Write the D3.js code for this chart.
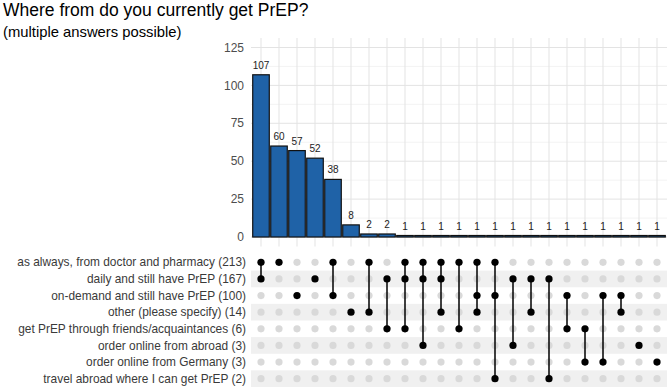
<!DOCTYPE html>
<html>
<head>
<meta charset="utf-8">
<script src="https://cdn.jsdelivr.net/npm/d3@7"></script>
<style>
  body { margin: 0; background: #fff; }
  svg { font-family: "Liberation Sans", Arial, sans-serif; }
</style>
</head>
<body>
<svg id="chart" width="669" height="388"></svg>
<script>
/** Set names (rows of the matrix), top to bottom */
var setNames = [
  "as always, from doctor and pharmacy",
  "daily and still have PrEP",
  "on-demand and still have PrEP",
  "other (please specify)",
  "get PrEP through friends/acquaintances",
  "order online from abroad",
  "order online from Germany",
  "travel abroad where I can get PrEP"
];
var setSizes = [213, 167, 100, 14, 6, 3, 3, 2];

/** Intersection sizes, one per column */
var counts = [107, 60, 57, 52, 38, 8, 2, 2, 1, 1, 1, 1, 1, 1, 1, 1, 1, 1, 1, 1, 1, 1, 1];

/** Which sets (row index) take part in each column */
var members = [
  [0, 1], [0], [2], [1], [0, 2], [3], [0, 3], [1, 4],
  [0, 1, 4], [0, 1, 5], [0, 1, 3], [0, 4], [0, 2, 3], [0, 2, 7],
  [1, 5], [1, 3], [1, 7], [2, 4], [4, 6], [2, 6], [2, 3], [5], [6]
];

var yTicks = [0, 25, 50, 75, 100, 125];
var yMinor = [12.5, 37.5, 62.5, 87.5, 112.5];

var svg = d3.select("#chart");

// title
svg.append("text").attr("x", 3).attr("y", 16)
  .style("font-size", "17.5px").style("fill", "#000")
  .text("Where from do you currently get PrEP?");
svg.append("text").attr("x", 3).attr("y", 37)
  .style("font-size", "14.8px").style("fill", "#000")
  .text("(multiple answers possible)");

// scales
var x = d3.scaleBand()
  .domain(d3.range(counts.length))
  .range([252, 666])
  .paddingInner(0.08)
  .paddingOuter(0.04);

var y = d3.scaleLinear()
  .domain([-6.25, 131.25])
  .range([246.5, 38]);

var row = d3.scaleBand()
  .domain(d3.range(setNames.length))
  .range([254, 387]);

var panelLeft = 251, panelRight = 667;

// ---- bar panel grid ----
var grid = svg.append("g");
grid.selectAll("line.minor").data(yMinor).enter().append("line")
  .attr("x1", panelLeft).attr("x2", panelRight)
  .attr("y1", function(d){ return y(d); }).attr("y2", function(d){ return y(d); })
  .attr("stroke", "#ebebeb").attr("stroke-width", 0.6);
grid.selectAll("line.major").data(yTicks).enter().append("line")
  .attr("x1", panelLeft).attr("x2", panelRight)
  .attr("y1", function(d){ return y(d); }).attr("y2", function(d){ return y(d); })
  .attr("stroke", "#e3e3e3").attr("stroke-width", 1);
grid.selectAll("line.vert").data(d3.range(counts.length)).enter().append("line")
  .attr("x1", function(d){ return x(d) + x.bandwidth() / 2; })
  .attr("x2", function(d){ return x(d) + x.bandwidth() / 2; })
  .attr("y1", y.range()[1]).attr("y2", y.range()[0])
  .attr("stroke", "#e3e3e3").attr("stroke-width", 1);

// y axis labels
svg.selectAll("text.ytick").data(yTicks).enter().append("text")
  .attr("x", 244).attr("y", function(d){ return y(d); })
  .attr("dy", "0.35em").attr("text-anchor", "end")
  .style("font-size", "12px").style("fill", "#4d4d4d")
  .text(function(d){ return d; });

// bars
svg.selectAll("rect.bar").data(counts).enter().append("rect")
  .attr("x", function(d, i){ return x(i); })
  .attr("width", x.bandwidth())
  .attr("y", function(d){ return y(d); })
  .attr("height", function(d){ return y(0) - y(d); })
  .attr("fill", "#1f62a7")
  .attr("stroke", "#111").attr("stroke-width", 1.2);

// bar labels
svg.selectAll("text.count").data(counts).enter().append("text")
  .attr("x", function(d, i){ return x(i) + x.bandwidth() / 2; })
  .attr("y", function(d){ return y(d) - 6; })
  .attr("text-anchor", "middle")
  .style("font-size", "10px").style("fill", "#222")
  .text(function(d){ return d; });

// ---- matrix ----
// stripes on every second row
svg.selectAll("rect.stripe").data(d3.range(setNames.length).filter(function(i){ return i % 2 == 1; }))
  .enter().append("rect")
  .attr("x", panelLeft).attr("width", panelRight - panelLeft)
  .attr("y", function(d){ return row(d); })
  .attr("height", row.bandwidth())
  .attr("fill", "#f0f0f0");

// row labels
svg.selectAll("text.setlabel").data(setNames).enter().append("text")
  .attr("x", 246)
  .attr("y", function(d, i){ return row(i) + row.bandwidth() / 2; })
  .attr("dy", "0.35em").attr("text-anchor", "end")
  .style("font-size", "11.9px").style("fill", "#3a3a3a")
  .text(function(d, i){ return d + " (" + setSizes[i] + ")"; });

var cols = svg.selectAll("g.col").data(members).enter().append("g")
  .attr("transform", function(d, i){ return "translate(" + (x(i) + x.bandwidth() / 2) + ",0)"; });

// background dots
cols.selectAll("circle.bg").data(d3.range(setNames.length)).enter().append("circle")
  .attr("cy", function(d){ return row(d) + row.bandwidth() / 2; })
  .attr("r", 3.6)
  .attr("fill", "#d9d9d9");

// connecting lines
cols.filter(function(d){ return d.length > 1; }).append("line")
  .attr("y1", function(d){ return row(d3.min(d)) + row.bandwidth() / 2; })
  .attr("y2", function(d){ return row(d3.max(d)) + row.bandwidth() / 2; })
  .attr("stroke", "#000").attr("stroke-width", 1.5);

// member dots
cols.selectAll("circle.on").data(function(d){ return d; }).enter().append("circle")
  .attr("cy", function(d){ return row(d) + row.bandwidth() / 2; })
  .attr("r", 3.6)
  .attr("fill", "#000");
</script>
</body>
</html>
